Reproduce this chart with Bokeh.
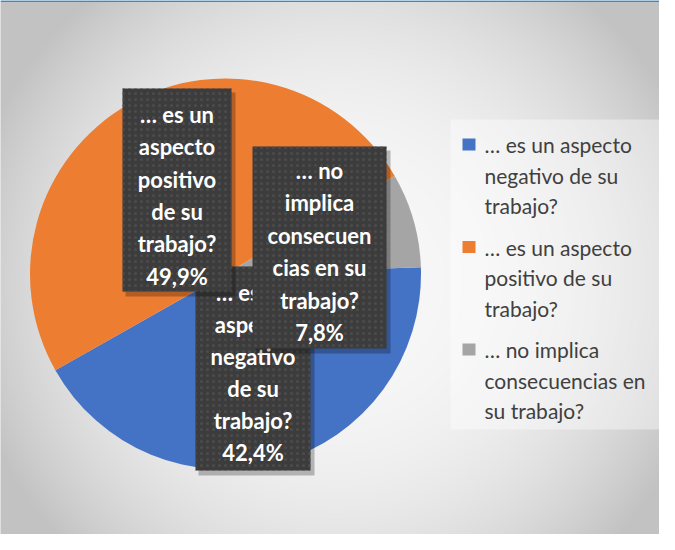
import numpy as np
from bokeh.plotting import figure
from bokeh.models import Range1d
from bokeh.core.properties import value
from bokeh.embed import file_html
from bokeh.resources import INLINE

# ---------------- data ----------------
categories = [
    "… es un aspecto negativo de su trabajo?",
    "… es un aspecto positivo de su trabajo?",
    "… no implica consecuencias en su trabajo?",
]
percentages = [42.4, 49.9, 7.8]
colors = ["#4472C4", "#ED7D31", "#A5A5A5"]

legend_lines = [
    ["… es un aspecto", "negativo de su", "trabajo?"],
    ["… es un aspecto", "positivo de su", "trabajo?"],
    ["… no implica", "consecuencias en", "su trabajo?"],
]
label_lines = [
    ["… es un", "aspecto", "negativo", "de su", "trabajo?"],
    ["… es un", "aspecto", "positivo", "de su", "trabajo?"],
    ["… no", "implica", "consecuen", "cias en su", "trabajo?"],
]

# ---------------- layout ----------------
W, H = 659, 534
OX, OY = 8, 8


def X(px):
    return px - OX


def Y(py):
    return H - (py - OY)


p = figure(width=W, height=H, x_range=Range1d(0, W), y_range=Range1d(0, H),
           output_backend="svg", toolbar_location=None, min_border=0)
p.xaxis.visible = False
p.yaxis.visible = False
p.grid.visible = False
p.outline_line_color = None
p.background_fill_color = "#d8d8d8"
p.border_fill_color = "white"

# background radial gradient
yy, xx = np.mgrid[0:H, 0:W]
page_x = xx + OX + 0.5
page_y = OY + H - (yy + 0.5)
d2 = ((page_x - 345) / 333.0) ** 2 + ((page_y - 290) / 330.0) ** 2
c = np.clip(248 - 38 * d2 ** 1.3, 194, 255).astype(np.uint8)
img = np.empty((H, W), dtype=np.uint32)
view = img.view(dtype=np.uint8).reshape((H, W, 4))
view[..., 0] = c
view[..., 1] = c
view[..., 2] = c
view[..., 3] = 255
p.image_rgba(image=[img], x=0, y=0, dw=W, dh=H)

# thin blue line at the top
p.quad(left=[0], right=[W], top=[H], bottom=[H - 1.5], fill_color="#1592F2", line_color=None)

# legend background
p.quad(left=[X(458)], right=[W], top=[Y(127)], bottom=[Y(437)],
       fill_color="white", fill_alpha=0.4, line_color=None)

# pie
vals = np.array(percentages, dtype=float)
frac = vals / vals.sum()
first_angle = 88.0
cum = np.concatenate([[0.0], np.cumsum(frac)]) * 360.0 + first_angle
start = np.radians(90.0 - cum[:-1])
end = np.radians(90.0 - cum[1:])
cx, cy, r = X(233), Y(281.5), 195.5
p.wedge(x=[cx] * 3, y=[cy] * 3, radius=r, start_angle=list(start), end_angle=list(end),
        direction="clock", fill_color=colors, line_color=None)

# data labels (drawing order: negativo, positivo, no implica)
box_left = [203, 130, 260]
box_right = [318, 239, 394]
box_top = [274, 96, 154]
box_bottom = [478, 299, 356]
first_line = [300, 122, 178]
line_step = [32.0, 32.3, 32.4]

for i in range(3):
    l, rr, t, b = box_left[i], box_right[i], box_top[i], box_bottom[i]
    p.quad(left=[X(l + 3)], right=[X(rr + 4)], top=[Y(t + 4)], bottom=[Y(b + 5)],
           fill_color="black", fill_alpha=0.25, line_color=None)
    p.quad(left=[X(l)], right=[X(rr)], top=[Y(t)], bottom=[Y(b)],
           fill_color="#3c3c3c", line_color=None,
           hatch_pattern=".", hatch_color="#4c4c4c", hatch_scale=6, hatch_weight=1)
    pct = f"{percentages[i]:.1f}".replace(".", ",") + "%"
    lines = label_lines[i] + [pct]
    xs = [X((l + rr) / 2.0)] * len(lines)
    ys = [Y(first_line[i] + k * line_step[i]) for k in range(len(lines))]
    p.text(x=xs, y=ys, text=lines, text_align="center", text_baseline="middle",
           text_font=value("Lato"), text_font_style="bold", text_font_size="22px",
           text_color="white")

# legend
sq_y = [152, 254.5, 357]
for i in range(3):
    p.quad(left=[X(470)], right=[X(483)], top=[Y(sq_y[i] - 6)], bottom=[Y(sq_y[i] + 6)],
           fill_color=colors[i], line_color=None)
    ys = [Y(sq_y[i] + k * 30.5) for k in range(len(legend_lines[i]))]
    p.text(x=[X(492)] * len(ys), y=ys, text=legend_lines[i], text_align="left",
           text_baseline="middle", text_font=value("Lato"), text_font_size="21px",
           text_color="#404040")

open("out.html", "w").write(file_html(p, INLINE))
